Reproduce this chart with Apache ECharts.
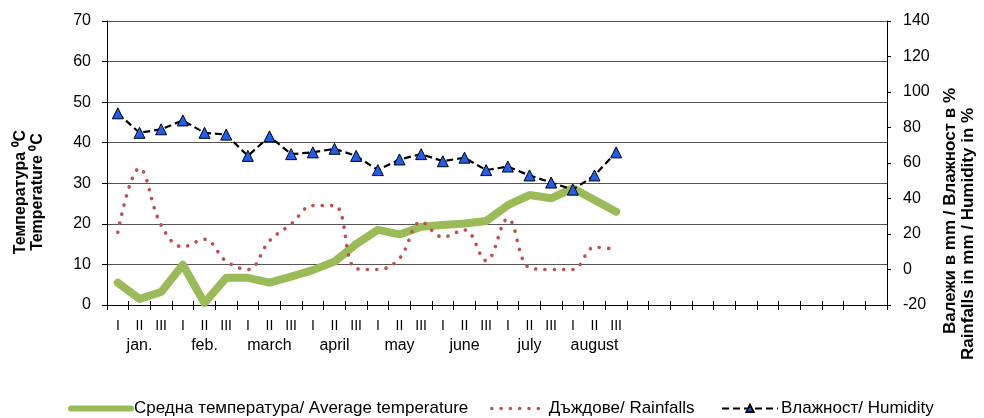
<!DOCTYPE html>
<html>
<head>
<meta charset="utf-8">
<script src="https://cdn.jsdelivr.net/npm/echarts@6/dist/echarts.min.js"></script>
<style>
html,body{margin:0;padding:0;background:#fff;}
#c{width:984px;height:418px;}
</style>
</head>
<body>
<div id="c"></div>
<script>
const months = ['jan.', 'feb.', 'march', 'april', 'may', 'june', 'july', 'august'];
const periods = ['I', 'II', 'III'];
const emptySlots = 12;

const temperature = [5.5, 1.5, 3.2, 9.9, 0.5, 6.7, 6.7, 5.5, 7.0, 8.6, 10.7, 15.0,
                     18.5, 17.4, 19.3, 19.7, 20.1, 20.7, 24.6, 27.1, 26.3, 28.8, 25.9, 23.0];
const rainfall = [21, 57, 25, 12.8, 17, 4.7, 0, 16.2, 25.6, 36, 36, 0.5,
                  0, 6.3, 26.8, 18.3, 22.3, 5, 28.6, 1, 0, 0, 12.5, 11.4];
const humidity = [88, 77, 79, 84, 77, 76, 64, 75, 65, 66, 68, 64,
                  56, 62, 65, 61, 63, 56, 58, 53, 49, 45, 53, 66];

const leftTicks = {min: 0, max: 70, interval: 10};
const rightTicks = {min: -20, max: 140, interval: 20};

const names = ['Средна температура/ Average temperature', 'Дъждове/ Rainfalls', 'Влажност/ Humidity'];
const leftTitle = ['Температура ⁰C', 'Temperature ⁰C'];
const rightTitle = ['Валежи в mm / Влажност в %', 'Rainfalls in mm / Humidity in %'];

const categories = [];
months.forEach(m => periods.forEach(p => categories.push(m + ' ' + p)));
for (let i = 0; i < emptySlots; i++) categories.push('empty' + i);

const FONT = '"Liberation Sans", Arial, sans-serif';
const legendText = {fontSize: 17, fontFamily: FONT, color: '#000', padding: [0, 0, 0, -2]};

const chart = echarts.init(document.getElementById('c'), null, {renderer: 'canvas'});
const option = {
  animation: false,
  backgroundColor: '#fff',
  grid: {left: 107, right: 97, top: 21, bottom: 113, containLabel: false},
  xAxis: [{
    type: 'category',
    data: categories,
    boundaryGap: true,
    position: 'bottom',
    axisLine: {onZero: false, lineStyle: {color: '#000', width: 1}},
    axisTick: {show: true, interval: 0, length: 5, lineStyle: {color: '#000'}},
    splitLine: {show: false},
    axisLabel: {
      interval: 0,
      margin: 12,
      fontFamily: FONT,
      color: '#000',
      formatter: function (value, idx) {
        if (idx >= months.length * 3) return '';
        const p = periods[idx % 3];
        if (idx % 3 === 1) return '{r|' + p + '}\n{m|' + months[(idx - 1) / 3] + '}';
        return '{r|' + p + '}';
      },
      rich: {
        r: {fontSize: 14, lineHeight: 18, fontFamily: FONT, color: '#000'},
        m: {fontSize: 16, lineHeight: 22, fontFamily: FONT, color: '#000'}
      }
    }
  }, {
    type: 'category',
    data: categories,
    boundaryGap: true,
    position: 'bottom',
    axisLine: {show: false, onZero: false},
    axisTick: {show: true, inside: true, interval: 0, length: 4, lineStyle: {color: '#000'}},
    axisLabel: {show: false},
    splitLine: {show: false}
  }],
  yAxis: [{
    type: 'value',
    position: 'left',
    min: leftTicks.min, max: leftTicks.max, interval: leftTicks.interval,
    axisLine: {show: true, lineStyle: {color: '#000'}},
    axisTick: {show: true, length: 5, lineStyle: {color: '#000'}},
    splitLine: {show: true, lineStyle: {color: '#555', width: 1}},
    axisLabel: {fontSize: 16, fontFamily: FONT, color: '#000', margin: 16}
  }, {
    type: 'value',
    position: 'right',
    min: rightTicks.min, max: rightTicks.max, interval: rightTicks.interval,
    axisLine: {show: true, lineStyle: {color: '#000'}},
    axisTick: {show: true, length: 4, lineStyle: {color: '#000'}},
    splitLine: {show: false},
    axisLabel: {fontSize: 16, fontFamily: FONT, color: '#000', margin: 16}
  }],
  legend: [{
    data: [names[0]], left: 68, top: 400, padding: 0, itemWidth: 60, itemHeight: 14,
    textStyle: legendText,
    lineStyle: {width: 6}, itemStyle: {opacity: 0}
  }, {
    data: [names[1]], left: 490, top: 400, padding: 0, itemWidth: 54, itemHeight: 14,
    textStyle: legendText,
    lineStyle: {width: 3.5}, itemStyle: {opacity: 0}
  }, {
    data: [names[2]], left: 721, top: 400, padding: 0, itemWidth: 56, itemHeight: 9,
    textStyle: legendText,
    lineStyle: {width: 2}
  }],
  graphic: [{
    type: 'text',
    x: 21, y: 192, rotation: Math.PI / 2,
    style: {text: leftTitle[0], font: 'bold 16px ' + FONT, fill: '#000', align: 'center', verticalAlign: 'middle'}
  }, {
    type: 'text',
    x: 38, y: 192, rotation: Math.PI / 2,
    style: {text: leftTitle[1], font: 'bold 16px ' + FONT, fill: '#000', align: 'center', verticalAlign: 'middle'}
  }, {
    type: 'text',
    x: 950, y: 211, rotation: Math.PI / 2,
    style: {text: rightTitle[0], font: 'bold 17px ' + FONT, fill: '#000', align: 'center', verticalAlign: 'middle'}
  }, {
    type: 'text',
    x: 968, y: 234, rotation: Math.PI / 2,
    style: {text: rightTitle[1], font: 'bold 17px ' + FONT, fill: '#000', align: 'center', verticalAlign: 'middle'}
  }],
  series: [{
    name: names[0],
    type: 'line',
    xAxisIndex: 0, yAxisIndex: 0,
    data: temperature,
    symbol: 'none',
    lineStyle: {color: '#9BBB59', width: 8, cap: 'round', join: 'round'},
    itemStyle: {color: '#9BBB59'},
    z: 2
  }, {
    name: names[1],
    type: 'line',
    xAxisIndex: 0, yAxisIndex: 1,
    data: rainfall,
    smooth: 0.4,
    symbol: 'none',
    lineStyle: {color: '#C0504D', width: 3.6, type: [0.1, 9.2], cap: 'round'},
    itemStyle: {color: '#C0504D'},
    z: 3
  }, {
    name: names[2],
    type: 'line',
    xAxisIndex: 0, yAxisIndex: 1,
    data: humidity,
    symbol: 'triangle',
    symbolSize: 11,
    lineStyle: {color: '#000', width: 2.2, type: [7, 4]},
    itemStyle: {color: '#1F5FEF', borderColor: '#000', borderWidth: 1},
    z: 4
  }]
};
chart.setOption(option);
</script>
</body>
</html>
